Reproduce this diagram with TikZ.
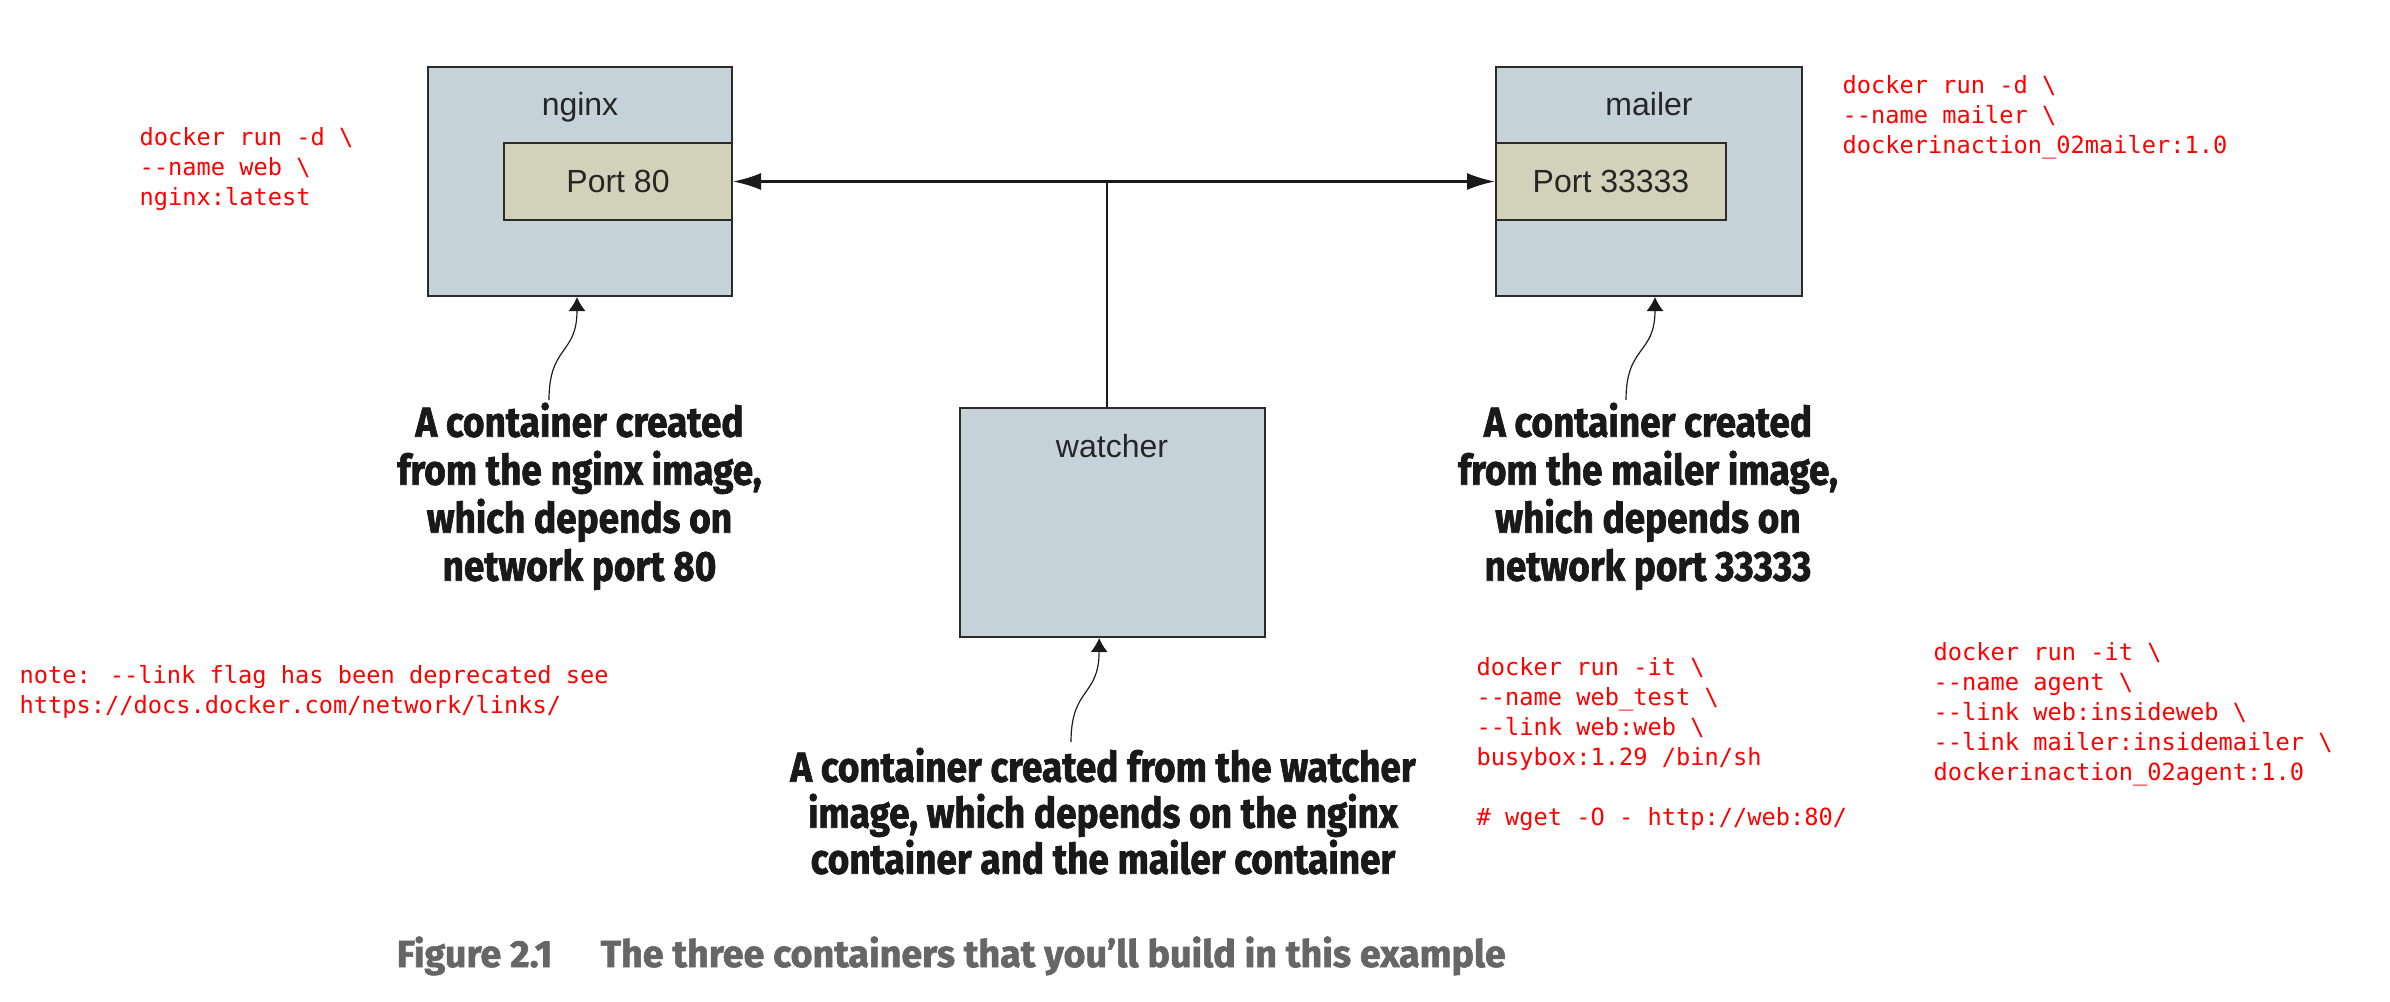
\documentclass[tikz,border=0pt]{standalone}
\usepackage{fontspec}
\setmainfont{Liberation Sans}
\newfontfamily\annfont{Fira Sans}[FakeStretch=0.88, FakeBold=1.6]
\newfontfamily\capfont{Fira Sans}[FakeBold=1.6]
\newfontfamily\redmono{DejaVu Sans Mono}
\usetikzlibrary{arrows.meta}
\definecolor{contfill}{HTML}{C5D3D9}
\definecolor{portfill}{HTML}{D2D2BA}
\definecolor{boxline}{HTML}{2B2B2B}
\definecolor{arrowcol}{HTML}{1A1A1A}
\definecolor{capgray}{HTML}{666666}
\definecolor{cmdred}{HTML}{FF0000}
\begin{document}
\begin{tikzpicture}[x=0.3pt,y=-0.3pt,
  container/.style={draw=boxline, fill=contfill, line width=0.6pt, minimum height=68.7pt, inner sep=0pt},
  port/.style={draw=boxline, fill=portfill, line width=0.6pt, minimum height=23.1pt, inner sep=0pt,
    font=\fontsize{9.6pt}{11pt}\selectfont, text=black!85},
  lbl/.style={font=\fontsize{9.6pt}{11pt}\selectfont, anchor=base, inner sep=0pt, text=black!85},
  ann/.style={font=\annfont\bfseries\fontsize{12.6pt}{14.4pt}\selectfont, align=center, anchor=north, inner sep=0pt, text=black!90},
  cmd/.style={text=cmdred, font=\redmono\fontsize{7.1pt}{9pt}\selectfont, align=left, anchor=north west, inner sep=0pt},
  caption/.style={text=capgray, font=\capfont\bfseries\fontsize{11.3pt}{14pt}\selectfont, anchor=base west, inner sep=0pt},
  link/.style={draw=arrowcol, line width=0.7pt, {Latex[length=8.4pt,width=5.1pt]}-{Latex[length=8.4pt,width=5.1pt]}},
  trunk/.style={draw=arrowcol, line width=0.6pt},
  pointer/.style={draw=arrowcol, line width=0.35pt, -{Latex[length=4.2pt,width=5.1pt]}}
]
\fill[white] (0,0) rectangle (2390,1002);
\useasboundingbox (0,0) rectangle (2390,1002);

% containers
\node[container, minimum width=91.2pt] (nginx) at (580,181.5) {};
\node[port, minimum width=68.4pt] (p80) at (618,181.5) {Port 80};
\node[lbl] (nginxlbl) at (580,115) {nginx};

\node[container, minimum width=91.8pt] (mailer) at (1649,181.5) {};
\node[port, minimum width=69pt] (p33) at (1611,181.5) {Port 33333};
\node[lbl] (mailerlbl) at (1649,115) {mailer};

\node[container, minimum width=91.5pt] (watcher) at (1112.5,522.5) {};
\node[lbl] (watcherlbl) at (1112,457) {watcher};

% links
\draw[link] (p80.east) -- (p33.west);
\coordinate (jn) at (1107,182);
\draw[trunk] (jn) -- (jn |- watcher.north);

% annotations
\node[ann] (annnginx) at (579.5,402) {A container created\\from the nginx image,\\which depends on\\network port 80};
\node[ann] (annmailer) at (1648,402) {A container created\\from the mailer image,\\which depends on\\network port 33333};
\node[ann, font=\annfont\bfseries\fontsize{12.6pt}{13.8pt}\selectfont] (annwatcher) at (1103,747) {A container created from the watcher\\image, which depends on the nginx\\container and the mailer container};

\coordinate (s1) at (549,400);
\coordinate (s2) at (1626,400);
\coordinate (s3) at (1071,742);
\draw[pointer] (s1) .. controls (549,345) and (577,355) .. ([xshift=-0.9pt]nginx.south);
\draw[pointer] (s2) .. controls (1626,345) and (1655,355) .. ([xshift=1.8pt]mailer.south);
\draw[pointer] (s3) .. controls (1071,687) and (1099,697) .. ([xshift=-4pt]watcher.south);

% commands
\node[cmd] (cmdnginx) at (139,127) {docker run -d \textbackslash\\-{}-name web \textbackslash\\nginx:latest};
\node[cmd] (cmdmailer) at (1842,75) {docker run -d \textbackslash\\-{}-name mailer \textbackslash\\dockerinaction\_02mailer:1.0};
\node[cmd] (note) at (19,665) {note: -{}-link flag has been deprecated see\\https://docs.docker.com/network/links/};
\node[cmd] (cmdweb) at (1476,657) {docker run -it \textbackslash\\-{}-name web\_test \textbackslash\\-{}-link web:web \textbackslash\\busybox:1.29 /bin/sh\\[9pt]\# wget -O - http://web:80/};
\node[cmd] (cmdagent) at (1933,642) {docker run -it \textbackslash\\-{}-name agent \textbackslash\\-{}-link web:insideweb \textbackslash\\-{}-link mailer:insidemailer \textbackslash\\dockerinaction\_02agent:1.0};

% caption
\node[caption] (cap) at (396,967) {Figure 2.1\hspace{14.5pt}The three containers that you’ll build in this example};
\end{tikzpicture}
\end{document}
